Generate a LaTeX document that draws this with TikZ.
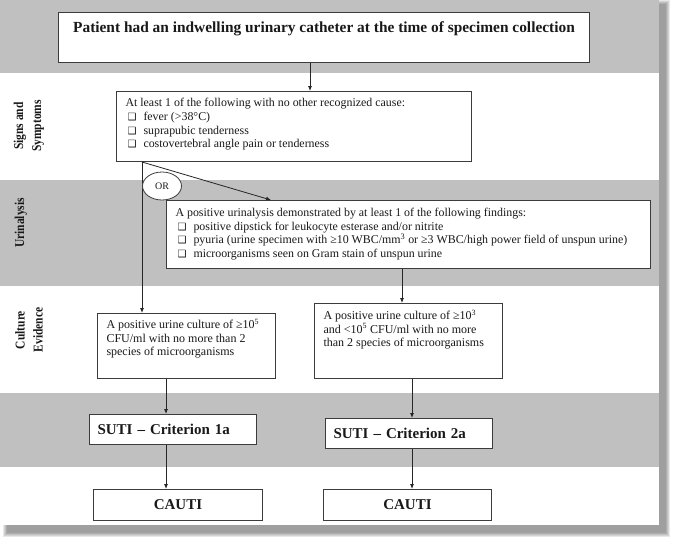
\documentclass[tikz,border=0pt]{standalone}
\usepackage{fontspec}
\setmainfont{Liberation Serif}
\newfontfamily\symfont{DejaVu Sans}
\newfontfamily\lblfont[FakeStretch=0.85]{Liberation Serif}
\usetikzlibrary{arrows.meta,shapes.geometric,calc}
\definecolor{bandgray}{RGB}{192,192,192}
\definecolor{boxline}{RGB}{60,60,60}
\definecolor{txt}{RGB}{25,25,25}
\newcommand\cbx{\hspace*{2pt}\makebox[16pt][l]{\symfont\fontsize{10}{10}\selectfont ❑}}
\tikzset{
  band/.style={fill=bandgray, draw=none},
  box/.style={draw=boxline, line width=1pt, fill=white, inner sep=0pt, anchor=north west, text=txt},
  arr/.style={draw=black!85, line width=0.8pt, -{Latex[length=5pt,width=4pt]}},
  lbl/.style={rotate=90, align=center, text=txt, font=\lblfont\fontsize{13.5}{18}\selectfont\bfseries},
  big/.style={font=\fontsize{15}{18}\selectfont\bfseries}
}
\begin{document}
\begin{tikzpicture}[x=1pt,y=-1pt]
\useasboundingbox (0,0) rectangle (676,542);
% shadow
\foreach \i in {0,...,4}
  \fill[black, opacity=0.09] (3+\i,\i) rectangle (670-\i,537-\i);
% content area and bands
\fill[white] (0,0) rectangle (659,525);
\fill[band] (0,0) rectangle (659,73);
\fill[band] (0,180) rectangle (659,286);
\fill[band] (0,393) rectangle (659,467);
% side labels
\node[lbl] (l1) at (29,126) {Signs and\\Symptoms};
\node[lbl] (l2) at (21,223) {Urinalysis};
\node[lbl] (l3) at (29,330) {Culture\\Evidence};
% boxes
\node[box] (top) at (58,12) {\parbox[t][50pt][t]{531pt}{\vspace*{9.5pt}\centering\fontsize{15.4}{18}\selectfont\bfseries
  Patient had an indwelling urinary catheter at the time of specimen collection}};
\node[box] (sig) at (116,91) {\parbox[t][70pt][t]{355pt}{\vspace*{7pt}\raggedright\leftskip=9pt\fontsize{11.9}{13.7}\selectfont
  At least 1 of the following with no other recognized cause:\\
  \cbx fever (>38°C)\\
  \cbx suprapubic tenderness\\
  \cbx costovertebral angle pain or tenderness}};
\node[box] (uri) at (166,200) {\parbox[t][68pt][t]{484pt}{\vspace*{8pt}\raggedright\leftskip=9pt\fontsize{11.9}{13.5}\selectfont
  A positive urinalysis demonstrated by at least 1 of the following findings:\\
  \cbx positive dipstick for leukocyte esterase and/or nitrite\\
  \cbx pyuria (urine specimen with ≥10 WBC/mm\textsuperscript{3} or ≥3 WBC/high power field of unspun urine)\\
  \cbx microorganisms seen on Gram stain of unspun urine}};
\node[box] (cul1) at (97,313) {\parbox[t][65pt][t]{178pt}{\vspace*{5.5pt}\raggedright\leftskip=9pt\fontsize{12}{13.5}\selectfont
  A positive urine culture of ≥10\textsuperscript{5}\\
  CFU/ml with no more than 2\\
  species of microorganisms}};
\node[box] (cul2) at (314,303) {\parbox[t][75pt][t]{188pt}{\vspace*{6.5pt}\raggedright\leftskip=9pt\fontsize{12}{13.5}\selectfont
  A positive urine culture of ≥10\textsuperscript{3}\\
  and <10\textsuperscript{5} CFU/ml with no more\\
  than 2 species of microorganisms}};
\node[box, big, inner xsep=8pt, text width=151pt, align=left, minimum height=30pt] (suti1) at (89,414) {SUTI – Criterion 1a};
\node[box, big, inner xsep=8pt, text width=151pt, align=left, minimum height=30pt] (suti2) at (325,418) {SUTI – Criterion 2a};
\node[box, big, minimum width=169pt, minimum height=31pt] (cauti1) at (93,489) {CAUTI};
\node[box, big, minimum width=168pt, minimum height=31pt] (cauti2) at (323,489) {CAUTI};
% connector columns
\coordinate (c1) at (310,0);
\coordinate (c2) at (142,0);
\coordinate (c3) at (402,0);
\coordinate (c4) at (166,0);
\coordinate (c5) at (412,0);
\coordinate (c6) at (271,0);
\draw[arr] (top.south -| c1) -- (sig.north -| c1);
\draw[arr] (sig.south -| c2) -- (cul1.north -| c2);
\draw[arr] (sig.south -| c2) -- (uri.north -| c6);
\draw[arr] (uri.south -| c3) -- (cul2.north -| c3);
\draw[arr] (cul1.south -| c4) -- (suti1.north -| c4);
\draw[arr] (cul2.south -| c5) -- (suti2.north -| c5);
\draw[arr] (suti1.south -| c4) -- (cauti1.north -| c4);
\draw[arr] (suti2.south -| c5) -- (cauti2.north -| c5);
\node[ellipse, draw=boxline, line width=0.8pt, fill=white, minimum width=39pt, minimum height=28pt, inner sep=0pt, text=txt, font=\fontsize{10}{10}\selectfont] (or) at (162,186) {OR};
\end{tikzpicture}
\end{document}
